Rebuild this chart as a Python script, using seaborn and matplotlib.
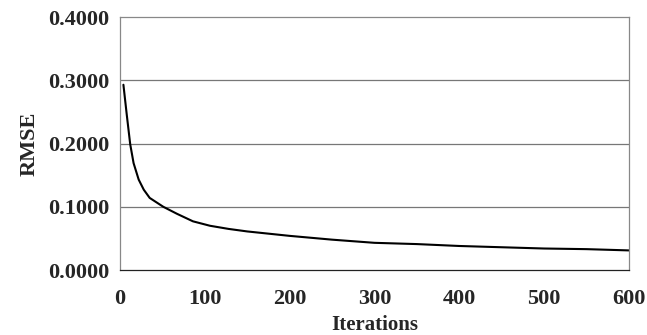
import numpy as np
import pandas as pd
import matplotlib
matplotlib.use("Agg")
import matplotlib.pyplot as plt
import seaborn as sns

# values
iterations = [4, 8, 12, 16, 22, 28, 35, 51, 67, 86, 106, 128, 150,
              200, 250, 300, 350, 400, 450, 500, 550, 600]
rmse = [0.293, 0.245, 0.199, 0.169, 0.143, 0.127, 0.114, 0.100, 0.089,
        0.077, 0.070, 0.065, 0.061, 0.054, 0.048, 0.043, 0.041, 0.038,
        0.036, 0.034, 0.033, 0.031]
x_ticks = [0, 100, 200, 300, 400, 500, 600]
y_ticks = [0.0, 0.1, 0.2, 0.3, 0.4]

df = pd.DataFrame({"Iterations": iterations, "RMSE": rmse})

sns.set_style("white")
plt.rcParams["font.family"] = ["Liberation Serif", "DejaVu Serif"]

fig = plt.figure(figsize=(6.47, 3.35), dpi=100)
ax = fig.add_axes([0.1855, 0.194, 0.7865, 0.755])

sns.lineplot(data=df, x="Iterations", y="RMSE", ax=ax, color="black", linewidth=1.5)

ax.set_xlim(0, 600)
ax.set_ylim(0, 0.4)
ax.set_xticks(x_ticks)
ax.set_yticks(y_ticks)
ax.set_yticklabels([f"{v:.4f}" for v in y_ticks])
for h in y_ticks[1:-1]:
    ax.axhline(h, color="#777777", linewidth=0.9, zorder=0)

ax.tick_params(axis="x", direction="in", length=3, width=0.8, color="#777777",
               labelsize=16, pad=14)
ax.tick_params(axis="y", length=0, labelsize=16, pad=8)
for lab in ax.get_xticklabels() + ax.get_yticklabels():
    lab.set_fontweight("bold")

for name, sp in ax.spines.items():
    sp.set_visible(True)
    sp.set_linewidth(0.9)
    sp.set_color("#888888")
ax.spines["bottom"].set_color("#222222")

ax.set_xlabel("Iterations", fontsize=15, fontweight="bold", labelpad=4)
ax.set_ylabel("RMSE", fontsize=16, fontweight="bold", labelpad=6)

fig.savefig("out.png", dpi=100)
